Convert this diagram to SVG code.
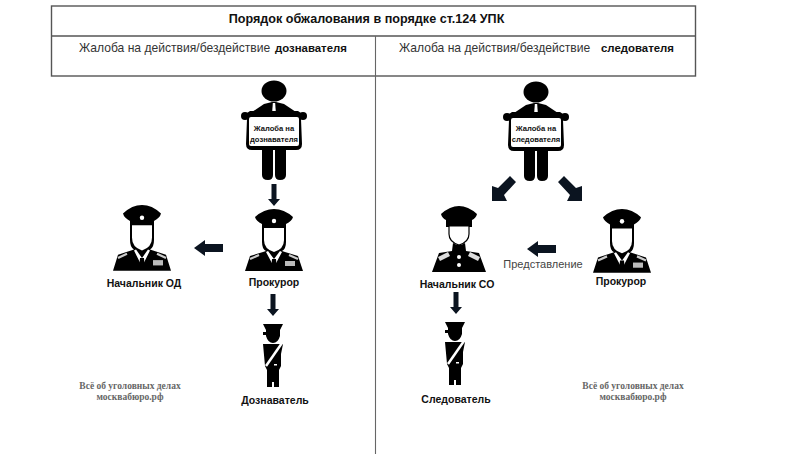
<svg xmlns="http://www.w3.org/2000/svg" xmlns:xlink="http://www.w3.org/1999/xlink" width="807" height="454" viewBox="0 0 807 454">
<style>
.frame{fill:none;stroke:#555;stroke-width:1.4}
.vline{fill:none;stroke:#666;stroke-width:1.1}
.head{font-family:"Liberation Sans",Arial,sans-serif;font-size:12.100px;fill:#333}
.headb{font-family:"Liberation Sans",Arial,sans-serif;font-size:11.400px;font-weight:700;fill:#111}
.title{font-family:"Liberation Sans",Arial,sans-serif;font-size:12.600px;font-weight:700;fill:#111;text-anchor:middle}
.lab{font-family:"Liberation Sans",Arial,sans-serif;font-size:10.500px;font-weight:700;fill:#111;text-anchor:middle}
.sign{font-family:"Liberation Sans",Arial,sans-serif;font-size:7.600px;font-weight:700;fill:#111;text-anchor:middle}
.wm{font-family:"Liberation Serif",serif;font-size:9.500px;font-weight:700;fill:#666;text-anchor:middle}
.rep{font-family:"Liberation Sans",Arial,sans-serif;font-size:11px;fill:#444;text-anchor:middle}
.arrow{fill:#0b1420}
</style>
<defs>
<g id="complainant">
<ellipse cx="0" cy="0" rx="12.500" ry="10.500" fill="#000"/>
<path d="M-10 13L-2 11H2L10 13L22 21H-22Z" fill="#000"/>
<path d="M-1.200 12H1.200L2 24H-2Z" fill="#fff"/>
<circle cx="-29" cy="25" r="4" fill="#000"/><circle cx="29" cy="25" r="4" fill="#000"/>
<path d="M-30 24L-24 20H24L30 24L27 28L28 53Q28 59 22 59H12V84Q12 89 6 89Q1 89 1 84V59H-1V84Q-1 89 -6 89Q-12 89 -12 84V59H-22Q-28 59 -28 53L-27 28Z" fill="#000"/>
<rect x="-25" y="26" width="50" height="29" rx="2" fill="#fff"/>
</g>
<g id="officer">
<path d="M-19 8Q-10 0 0 0Q10 0 19 8Q18 12 12 15V19H-12V15Q-18 12 -19 8Z" fill="#000"/>
<circle cx="0" cy="12" r="2.200" fill="#fff"/>
<path d="M-12 18H12V33Q12 40 8 42L11 43L24 47L29 62H-29L-24 47L-11 43L-8 42Q-12 40 -12 33Z" fill="#000"/>
<path d="M-10 19H10V31Q10 40 0 43Q-10 40 -10 31Z" fill="#fff"/>
<path d="M-8 43L0 58L8 43L6 42L0 50L-6 42Z" fill="#fff"/>
<path d="M-24 50L-15 46M24 50L15 46" stroke="#ccc" stroke-width="2.200" fill="none"/>
<path d="M-2 50H2L3 61H-3Z" fill="#000"/>
<rect x="11" y="52" width="10" height="5" fill="#bbb"/>
</g>
<g id="chief">
<path d="M-18 8Q-9 0 0 0Q9 0 18 8Q17 12 13 14V21H-13V14Q-17 12 -18 8Z" fill="#000"/>
<path d="M-10 20H10V28Q10 36 0 39Q-10 36 -10 28Z" fill="#fff" stroke="#000" stroke-width="1.200"/>
<path d="M-6 37Q0 41 6 37L7 45L20 47L27 66H-27L-20 47L-7 45Z" fill="#000"/>
<path d="M-21 51L-11 46L-9 50L-19 55ZM21 51L11 46L9 50L19 55Z" fill="#ddd"/>
<circle cx="0" cy="51" r="2" fill="#fff"/><circle cx="0" cy="59" r="2" fill="#fff"/>
</g>
<g id="soldier">
<path d="M-10 0H10L7 6V12Q5 19 0 19Q-5 19 -7 12V6Z" fill="#000"/>
<rect x="-10" y="8" width="3" height="3" fill="#000"/>
<path d="M-10 20H10L8 30L8 42L6 46V63H1V58H-1V63H-6V46L-8 42Z" fill="#000"/>
<path d="M9 19L-7 42" stroke="#fff" stroke-width="2.500"/>
<rect x="1" y="40" width="3" height="1.500" fill="#fff"/>
</g>
<path id="arrowD" class="arrow" d="M-2.500 0H2.500V15H6L0 22L-6 15H-2.500Z"/>
<path id="arrowL" class="arrow" d="M29 -4V4H11V8L0 0L11 -8V-4Z"/>
</defs>

<g id="table">
<rect class="frame" x="51.500" y="6" width="644" height="70"/>
<path class="frame" d="M51.500 36H695.500"/>
<path class="vline" d="M375.500 36V454"/>
</g>
<g id="title"><text class="title" x="366.500" y="23">Порядок обжалования в порядке ст.124 УПК</text></g>
<g id="head-left"><text class="head" x="79" y="52">Жалоба на действия/бездействие</text><text class="headb" x="275" y="52">дознавателя</text></g>
<g id="head-right"><text class="head" x="399" y="52">Жалоба на действия/бездействие</text><text class="headb" x="601" y="52">следователя</text></g>

<g id="connectors">
<use xlink:href="#arrowD" href="#arrowD" x="274" y="184"/>
<use xlink:href="#arrowL" href="#arrowL" x="194" y="248"/>
<use xlink:href="#arrowD" href="#arrowD" x="273" y="294"/>
<use xlink:href="#arrowD" href="#arrowD" x="456" y="292"/>
<use xlink:href="#arrowL" href="#arrowL" x="527" y="249"/>
<path class="arrow" d="M510 176L516 182L504 195L507 201H492V186L498 188Z"/>
<path class="arrow" d="M564 176L558 182L570 195L567 201H582V186L576 188Z"/>
</g>

<g id="complaint-interrogator">
<use xlink:href="#complainant" href="#complainant" x="274" y="91"/>
<text class="sign" x="274" y="131">Жалоба на</text>
<text class="sign" x="274" y="142">дознавателя</text>
</g>
<g id="complaint-investigator">
<use xlink:href="#complainant" href="#complainant" x="536" y="92"/>
<text class="sign" x="536" y="131">Жалоба на</text>
<text class="sign" x="536" y="142">следователя</text>
</g>
<g id="prosecutor-left">
<use xlink:href="#officer" href="#officer" x="274" y="209"/>
<text class="lab" x="274" y="286">Прокурор</text>
</g>
<g id="chief-od">
<use xlink:href="#officer" href="#officer" transform="translate(142 205) scale(1 1.060)"/>
<text class="lab" x="144" y="287">Начальник ОД</text>
</g>
<g id="prosecutor-right">
<use xlink:href="#officer" href="#officer" transform="translate(622 209) scale(1 1.030)"/>
<text class="lab" x="621" y="285">Прокурор</text>
</g>
<g id="chief-so">
<use xlink:href="#chief" href="#chief" x="459" y="206"/>
<text class="lab" x="457" y="288">Начальник СО</text>
</g>
<g id="interrogator">
<use xlink:href="#soldier" href="#soldier" x="273" y="324"/>
<text class="lab" x="275" y="404">Дознаватель</text>
</g>
<g id="investigator">
<use xlink:href="#soldier" href="#soldier" x="455" y="322"/>
<text class="lab" x="456" y="403">Следователь</text>
</g>
<g id="representation"><text class="rep" x="543" y="268">Представление</text></g>
<g id="watermark-left">
<text class="wm" x="130" y="389">Всё об уголовных делах</text>
<text class="wm" x="130" y="400">москвабюро.рф</text>
</g>
<g id="watermark-right">
<text class="wm" x="633" y="389">Всё об уголовных делах</text>
<text class="wm" x="633" y="400">москвабюро.рф</text>
</g>
</svg>
